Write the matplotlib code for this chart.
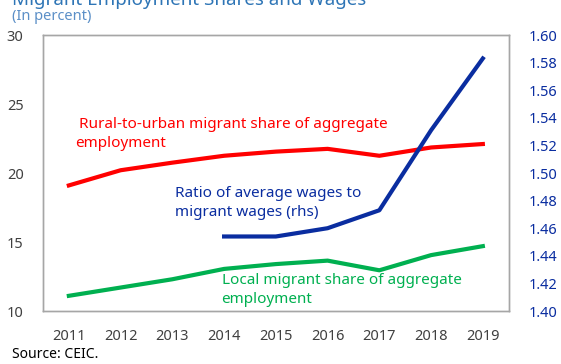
import matplotlib.pyplot as plt

years = ['2011', '2012', '2013', '2014', '2015', '2016', '2017', '2018', '2019']
rural_share = [19.1, 20.2, 20.75, 21.25, 21.55, 21.75, 21.25, 21.85, 22.1]
local_share = [11.1, 11.7, 12.3, 13.05, 13.4, 13.65, 12.95, 14.05, 14.7]
wage_years = ['2014', '2015', '2016', '2017', '2018', '2019']
wage_ratio = [1.454, 1.454, 1.460, 1.473, 1.531, 1.583]

RED = '#FF0000'
GREEN = '#00B050'
BLUE = '#0A2DA0'
GRAY = '#404040'

plt.rcParams['font.family'] = ['Noto Sans', 'DejaVu Sans']

fig = plt.figure(figsize=(5.61, 3.64), dpi=100)
ax = fig.add_axes([0.0766, 0.1456, 0.8302, 0.7582])
ax2 = ax.twinx()

xs = list(range(len(years)))
ax.plot(xs, rural_share, color=RED, lw=3)
ax.plot(xs, local_share, color=GREEN, lw=3)
wx = [years.index(y) for y in wage_years]
ax2.plot(wx, wage_ratio, color=BLUE, lw=3)

ax.set_xlim(-0.5, len(years) - 0.5)
ax.set_ylim(10, 30)
ax.set_yticks(range(10, 31, 5))
ax2.set_ylim(1.40, 1.60)
ax2.set_yticks([1.40 + 0.02 * i for i in range(11)])
ax2.set_yticklabels([f'{1.40 + 0.02 * i:.2f}' for i in range(11)])
ax.set_xticks(xs)
ax.set_xticklabels(years)

ax.tick_params(axis='x', length=0, labelsize=10.5, colors=GRAY, pad=13)
ax.tick_params(axis='y', length=0, labelsize=10.5, colors=GRAY, pad=14)
ax2.tick_params(axis='y', length=0, labelsize=10.5, colors=BLUE, pad=14)
for a in (ax, ax2):
    for s in a.spines.values():
        s.set_color('#A6A6A6')
        s.set_linewidth(1)

ax.text(0.12, 22.85, ' Rural-to-urban migrant share of aggregate\nemployment',
        color=RED, fontsize=11, va='center', ha='left', linespacing=1.35)
ax.text(2.05, 17.85, 'Ratio of average wages to\nmigrant wages (rhs)',
        color=BLUE, fontsize=11, va='center', ha='left', linespacing=1.35)
ax.text(2.95, 11.5, 'Local migrant share of aggregate\nemployment',
        color=GREEN, fontsize=11, va='center', ha='left', linespacing=1.35)

# chart title sits partly above the top edge
fig.text(0.022, 1.0, 'Migrant Employment Shares and Wages', color='#2E75B6',
         fontsize=13.5, fontweight='bold', va='center', ha='left')
fig.text(0.022, 0.955, '(In percent)', color='#5B8FC7', fontsize=10.5,
         va='center', ha='left')
fig.text(0.022, 0.027, 'Source: CEIC.', color='black', fontsize=10,
         va='center', ha='left')

fig.savefig('out.png', dpi=100)
